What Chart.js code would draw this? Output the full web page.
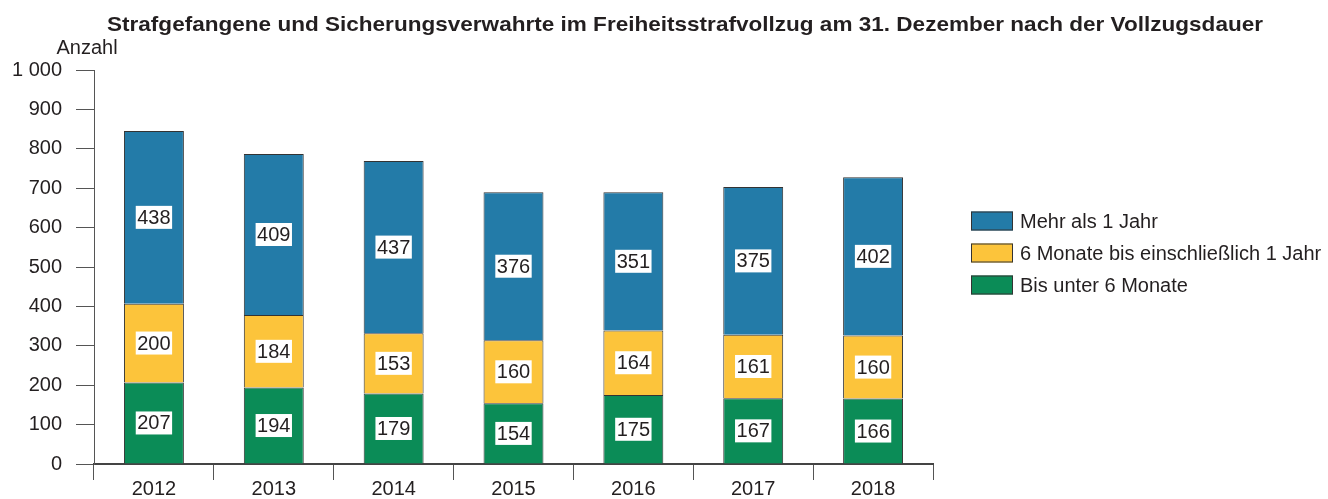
<!DOCTYPE html>
<html>
<head>
<meta charset="utf-8">
<script src="https://cdn.jsdelivr.net/npm/chart.js@4"></script>
<style>
  html, body { margin: 0; padding: 0; background: #fff; }
  #wrap { width: 1328px; height: 499px; }
</style>
</head>
<body>
<div id="wrap"><canvas id="results_plot" width="1328" height="499"></canvas></div>
<script>
'use strict';

// data
const YEARS = ['2012', '2013', '2014', '2015', '2016', '2017', '2018'];
const UNDER_6M = [207, 194, 179, 154, 175, 167, 166];
const SIX_TO_12M = [200, 184, 153, 160, 164, 161, 160];
const OVER_1Y = [438, 409, 437, 376, 351, 375, 402];
const Y_TICKS = [0, 100, 200, 300, 400, 500, 600, 700, 800, 900, 1000];

const TITLE = 'Strafgefangene und Sicherungsverwahrte im Freiheitsstrafvollzug am 31. Dezember nach der Vollzugsdauer';
const FONT = '"Liberation Sans", Arial, sans-serif';
const TEXT_COLOR = '#231f20';

function spaced(v) {
    return String(v).replace(/\B(?=(\d{3})+(?!\d))/g, ' ');
}

// title, axis caption, value boxes and the legend are drawn by hand
const extrasPlugin = {
    id: 'extras',
    afterDatasetsDraw(chart) {
        const ctx = chart.ctx;
        ctx.save();
        ctx.font = '20px ' + FONT;
        ctx.textAlign = 'center';
        ctx.textBaseline = 'middle';
        chart.data.datasets.forEach((ds, i) => {
            const meta = chart.getDatasetMeta(i);
            meta.data.forEach((bar, j) => {
                const txt = String(ds.data[j]);
                const w = ctx.measureText(txt).width + 3;
                const h = 23;
                const cy = (bar.y + bar.base) / 2;
                ctx.fillStyle = '#ffffff';
                ctx.fillRect(bar.x - w / 2, cy - h / 2, w, h);
                ctx.fillStyle = TEXT_COLOR;
                ctx.fillText(txt, bar.x, cy + 1);
            });
        });
        ctx.restore();
    },
    afterDraw(chart) {
        const ctx = chart.ctx;
        ctx.save();
        ctx.fillStyle = TEXT_COLOR;

        // title is a little wider in the original, stretch it
        ctx.font = 'bold 21px ' + FONT;
        ctx.textAlign = 'center';
        ctx.textBaseline = 'alphabetic';
        const tw = ctx.measureText(TITLE).width;
        ctx.save();
        ctx.translate(685, 31);
        ctx.scale(1156 / tw, 1);
        ctx.fillText(TITLE, 0, 0);
        ctx.restore();

        ctx.textBaseline = 'middle';
        ctx.font = '20px ' + FONT;
        ctx.fillText('Anzahl', 87, 48);

        // legend, top item is the top segment
        ctx.textAlign = 'left';
        const items = chart.data.datasets.slice().reverse();
        items.forEach((ds, k) => {
            const cy = 221 + k * 32;
            ctx.fillStyle = ds.backgroundColor;
            ctx.fillRect(971, cy - 9.5, 42, 19);
            ctx.strokeStyle = '#333';
            ctx.lineWidth = 1;
            ctx.strokeRect(971.5, cy - 9, 41, 18);
            ctx.fillStyle = TEXT_COLOR;
            ctx.fillText(ds.label, 1020, cy + 1);
        });
        ctx.restore();
    }
};

const data = {
    labels: YEARS,
    datasets: [
        { label: 'Bis unter 6 Monate', data: UNDER_6M, backgroundColor: '#0b8c57' },
        { label: '6 Monate bis einschließlich 1 Jahr', data: SIX_TO_12M, backgroundColor: '#fcc43b' },
        { label: 'Mehr als 1 Jahr', data: OVER_1Y, backgroundColor: '#237ba8' }
    ]
};

data.datasets.forEach(ds => {
    ds.borderColor = '#333333';
    ds.borderWidth = 1;
    ds.categoryPercentage = 0.5;
    ds.barPercentage = 1.0;
});

Chart.defaults.font.family = FONT;
Chart.defaults.font.size = 20;
Chart.defaults.color = TEXT_COLOR;

const config = {
    type: 'bar',
    data: data,
    options: {
        responsive: false,
        animation: false,
        events: [],
        layout: {
            padding: { top: 70, right: 395, bottom: 0, left: 12 }
        },
        plugins: {
            legend: { display: false },
            title: { display: false },
            tooltip: { enabled: false }
        },
        scales: {
            x: {
                stacked: true,
                offset: true,
                grid: {
                    offset: true,
                    drawOnChartArea: false,
                    drawTicks: true,
                    tickLength: 16,
                    color: '#555555'
                },
                border: { color: '#444444', width: 2 },
                ticks: { padding: 0, color: TEXT_COLOR, font: { size: 20, lineHeight: 0.95 } }
            },
            y: {
                stacked: true,
                min: 0,
                max: 1000,
                afterBuildTicks(scale) {
                    scale.ticks = Y_TICKS.map(v => ({ value: v }));
                },
                afterFit(scale) {
                    scale.width = 82;
                },
                grid: {
                    drawOnChartArea: false,
                    drawTicks: true,
                    tickLength: 18,
                    color: '#555555'
                },
                border: { color: '#555555', width: 1 },
                ticks: {
                    padding: 14,
                    color: TEXT_COLOR,
                    callback: v => spaced(v)
                }
            }
        }
    },
    plugins: [extrasPlugin]
};

new Chart(document.getElementById('results_plot'), config);
</script>
</body>
</html>
